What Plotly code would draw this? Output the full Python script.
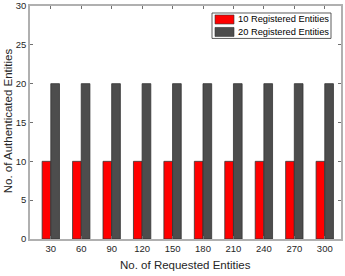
import plotly.graph_objects as go

requested = [30, 60, 90, 120, 150, 180, 210, 240, 270, 300]
reg10 = [10, 10, 10, 10, 10, 10, 10, 10, 10, 10]
reg20 = [20, 20, 20, 20, 20, 20, 20, 20, 20, 20]
y_ticks = [0, 5, 10, 15, 20, 25, 30]
series_names = ["10 Registered Entities", "20 Registered Entities"]
series_colors = ["#FF0000", "#4D4D4D"]

W, H = 345, 276
L, R, T, B = 30, 4, 5.5, 37
pw, ph = W - L - R, H - T - B

fig = go.Figure()
for name, vals, col in zip(series_names, [reg10, reg20], series_colors):
    fig.add_trace(go.Bar(x=requested, y=vals, name=name, showlegend=False,
                         marker=dict(color=col, line=dict(color="#333333", width=0.8))))

font = "Liberation Sans, Arial, sans-serif"

# custom compact legend (paper coordinates)
def px(x):
    return (x - L) / pw
def py(y):
    return (H - B - y) / ph

shapes = [dict(type="rect", xref="paper", yref="paper",
               x0=px(212), x1=px(331), y0=py(38), y1=py(12.5),
               line=dict(color="#333333", width=0.8), fillcolor="white", layer="above")]
annotations = []
for i, (name, col) in enumerate(zip(series_names, series_colors)):
    yc = 19 + i * 12.5
    shapes.append(dict(type="rect", xref="paper", yref="paper",
                       x0=px(215), x1=px(234), y0=py(yc + 4.5), y1=py(yc - 4.5),
                       line=dict(color="#333333", width=0.6), fillcolor=col, layer="above"))
    annotations.append(dict(xref="paper", yref="paper", x=px(235.5), y=py(yc),
                            xanchor="left", yanchor="middle", showarrow=False,
                            text=name, font=dict(size=9.3, color="#000000", family=font)))

annotations.append(dict(xref="paper", yref="paper", x=px(185), y=py(265),
                        xanchor="center", yanchor="middle", showarrow=False,
                        text="No. of Requested Entities",
                        font=dict(size=11.5, color="#262626", family=font)))
annotations.append(dict(xref="paper", yref="paper", x=px(8), y=py(121),
                        xanchor="center", yanchor="middle", showarrow=False, textangle=-90,
                        text="No. of Authenticated Entities",
                        font=dict(size=11.5, color="#262626", family=font)))

fig.update_layout(
    width=W, height=H,
    margin=dict(l=L, r=R, t=T, b=B),
    barmode="group", bargap=0.43, bargroupgap=0,
    plot_bgcolor="white", paper_bgcolor="white",
    font=dict(family=font, size=9.5, color="#262626"),
    showlegend=False, hovermode=False,
    shapes=shapes, annotations=annotations,
    xaxis=dict(range=[9.5, 316], tickvals=requested, ticktext=[str(v) for v in requested],
               showline=True, linecolor="#b0b0b0", linewidth=1.5, mirror="ticks",
               ticks="inside", ticklen=3, tickcolor="#707070", showgrid=False, zeroline=False,
               automargin=False, tickfont=dict(size=9.5), ticklabeloverflow="allow"),
    yaxis=dict(range=[0, 30], tickvals=y_ticks,
               showline=True, linecolor="#b0b0b0", linewidth=1.5, mirror="ticks",
               ticks="inside", ticklen=3, tickcolor="#707070", showgrid=False, zeroline=False,
               automargin=False, tickfont=dict(size=9.5), ticklabeloverflow="allow"),
)
fig.write_html("out.html", config={"displayModeBar": False},
               post_script="document.body.style.margin='0';")
